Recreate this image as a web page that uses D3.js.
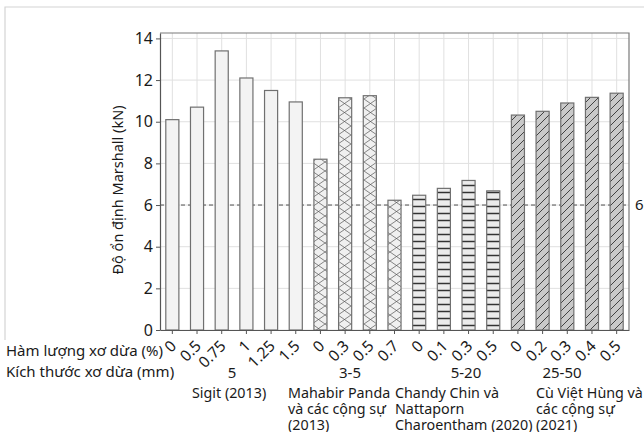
<!DOCTYPE html>
<html>
<head>
<meta charset="utf-8">
<script src="https://cdn.jsdelivr.net/npm/d3@7"></script>
<style>
  body { margin: 0; background: #fff; }
  svg text { font-family: "Noto Sans", "Open Sans", sans-serif; fill: #1a1a1a; }
</style>
</head>
<body>
<script>
// fibre content (%) for each bar, in order
var contents = ["0", "0.5", "0.75", "1", "1.25", "1.5",
                "0", "0.3", "0.5", "0.7",
                "0", "0.1", "0.3", "0.5",
                "0", "0.2", "0.3", "0.4", "0.5"];
// Marshall stability (kN)
var stability = [10.1, 10.7, 13.4, 12.1, 11.5, 10.95,
                 8.2, 11.15, 11.25, 6.23,
                 6.47, 6.8, 7.18, 6.68,
                 10.32, 10.5, 10.9, 11.17, 11.37];
// study index for each bar
var study = [0, 0, 0, 0, 0, 0, 1, 1, 1, 1, 2, 2, 2, 2, 3, 3, 3, 3, 3];
var fibreSize = ["5", "3-5", "5-20", "25-50"];
var authors = [["Sigit (2013)"],
               ["Mahabir Panda", "và các cộng sự", "(2013)"],
               ["Chandy Chin và", "Nattaporn", "Charoentham (2020)"],
               ["Cù Việt Hùng và", "các cộng sự", "(2021)"]];
var limit = 6;
var yTicks = [0, 2, 4, 6, 8, 10, 12, 14];

var data = stability.map(function (v, i) {
    return {i: i, v: v, c: contents[i], s: study[i]};
});

var W = 644, H = 432;
var margin = {left: 160, top: 33, right: 15, bottom: 102};
var x0 = margin.left, x1 = W - margin.right, yb = H - margin.bottom;

var svg = d3.select("body").append("svg").attr("width", W).attr("height", H);

// patterns for each study
var defs = svg.append("defs");
var p1 = defs.append("pattern").attr("id", "cross").attr("patternUnits", "userSpaceOnUse")
    .attr("width", 13).attr("height", 9);
p1.append("rect").attr("width", 13).attr("height", 9).attr("fill", "#f0f0f0");
p1.append("path").attr("d", "M0,0L13,9M13,0L0,9").attr("stroke", "#555").attr("stroke-width", 0.7);

var p2 = defs.append("pattern").attr("id", "hstripe").attr("patternUnits", "userSpaceOnUse")
    .attr("width", 8).attr("height", 7);
p2.append("rect").attr("width", 8).attr("height", 7).attr("fill", "#ebebeb");
p2.append("path").attr("d", "M0,3.5H8").attr("stroke", "#333").attr("stroke-width", 1.5);

var p3 = defs.append("pattern").attr("id", "diag").attr("patternUnits", "userSpaceOnUse")
    .attr("width", 8).attr("height", 8);
p3.append("rect").attr("width", 8).attr("height", 8).attr("fill", "#c9c9c9");
p3.append("path").attr("d", "M0,8L8,0M-2,2L2,-2M6,10L10,6").attr("stroke", "#333").attr("stroke-width", 0.9);

var fills = ["#f3f3f3", "url(#cross)", "url(#hstripe)", "url(#diag)"];

// outer frame
svg.append("path").attr("d", "M5,340V7H" + W)
    .attr("fill", "none").attr("stroke", "#d4d4d4").attr("stroke-width", 1.2);

var xScale = d3.scaleBand().domain(d3.range(data.length)).range([x0, x1])
    .paddingInner(0.47).paddingOuter(0.235);
var yScale = d3.scaleLinear().domain([0, 14.26]).range([yb, margin.top]);
function cx(i) { return xScale(i) + xScale.bandwidth() / 2; }

// grid
svg.append("g").selectAll("line").data(yTicks).enter().append("line")
    .attr("x1", x0).attr("x2", x1)
    .attr("y1", function (d) { return yScale(d); }).attr("y2", function (d) { return yScale(d); })
    .attr("stroke", "#e0e0e0");
svg.append("g").selectAll("line").data(data).enter().append("line")
    .attr("x1", function (d) { return cx(d.i); })
    .attr("x2", function (d) { return cx(d.i); })
    .attr("y1", margin.top).attr("y2", yb)
    .attr("stroke", "#e0e0e0");

// frame top and right
svg.append("path").attr("d", "M" + x0 + "," + margin.top + "H" + x1 + "V" + yb)
    .attr("fill", "none").attr("stroke", "#7a7a7a").attr("stroke-width", 1.2);

// dashed limit line
svg.append("line").attr("x1", x0).attr("x2", x1)
    .attr("y1", yScale(limit)).attr("y2", yScale(limit))
    .attr("stroke", "#555").attr("stroke-dasharray", "4,3");
svg.append("text").attr("x", x1 + 6).attr("y", yScale(limit)).attr("dy", "0.35em")
    .style("font-size", "15px").text(limit);

// bars
svg.append("g").selectAll("rect").data(data).enter().append("rect")
    .attr("x", function (d) { return xScale(d.i); })
    .attr("y", function (d) { return yScale(d.v); })
    .attr("width", xScale.bandwidth())
    .attr("height", function (d) { return yb - yScale(d.v); })
    .attr("fill", function (d) { return fills[d.s]; })
    .attr("stroke", "#707070").attr("stroke-width", 1.2);

// y axis
var yAxis = d3.axisLeft(yScale).tickValues(yTicks).tickSize(4).tickSizeOuter(0);
var yAxisG = svg.append("g").attr("transform", "translate(" + x0 + ",0)").call(yAxis);
yAxisG.select(".domain").attr("stroke", "#555").attr("stroke-width", 1.2);
yAxisG.selectAll(".tick line").attr("stroke", "#555");
yAxisG.selectAll("text").style("font-size", "16px").attr("fill", "#1a1a1a")
    .style("font-family", "'Noto Sans', sans-serif");

// x axis (ticks only, labels drawn separately)
var xAxis = d3.axisBottom(xScale).tickSize(4).tickSizeOuter(0).tickFormat("");
var xAxisG = svg.append("g").attr("transform", "translate(0," + yb + ")").call(xAxis);
xAxisG.select(".domain").attr("stroke", "#555").attr("stroke-width", 1.2);
xAxisG.selectAll(".tick line").attr("stroke", "#555");

// slanted content labels (45 degrees, as a matrix)
svg.append("g").selectAll("text").data(data).enter().append("text")
    .attr("transform", function (d) {
        return "matrix(0.7071,-0.7071,0.7071,0.7071," + (cx(d.i) + 5) + "," + (yb + 17) + ")";
    })
    .style("text-anchor", "end").style("font-size", "15.5px")
    .text(function (d) { return d.c; });

// y title
svg.append("text")
    .attr("transform", "translate(123,190) rotate(-90)")
    .style("text-anchor", "middle").style("font-size", "14.5px")
    .text("Độ ổn định Marshall (kN)");

// row labels
svg.append("text").attr("x", 6).attr("y", 356).style("font-size", "15px").text("Hàm lượng xơ dừa (%)");
svg.append("text").attr("x", 6).attr("y", 377).style("font-size", "15px").text("Kích thước xơ dừa (mm)");

// group labels
var sizeX = [232, 350, 466, 562];
var authorX = [192, 288, 395, 536];
svg.append("g").selectAll("text").data(fibreSize).enter().append("text")
    .attr("x", function (d, k) { return sizeX[k]; }).attr("y", 378)
    .style("text-anchor", "middle").style("font-size", "15px")
    .text(function (d) { return d; });

authors.forEach(function (lines, k) {
    var t = svg.append("text").attr("x", authorX[k]).attr("y", 398).style("font-size", "14.3px");
    lines.forEach(function (line, j) {
        t.append("tspan").attr("x", authorX[k]).attr("y", 398 + j * 16).text(line);
    });
});
</script>
</body>
</html>
